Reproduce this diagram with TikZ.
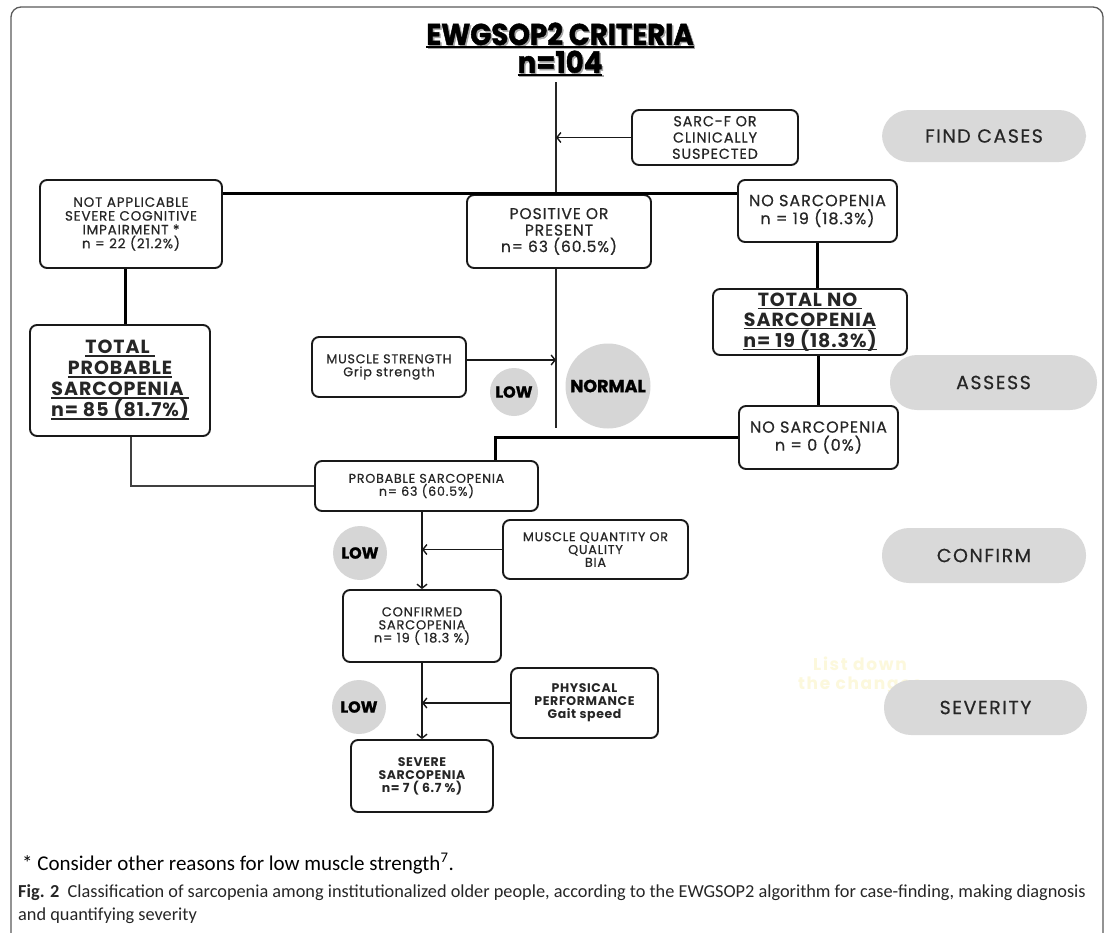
\documentclass[tikz,border=0pt]{standalone}
\usepackage{fontspec}
\setmainfont{Poppins}
\newfontfamily\capfont{Carlito}
\usetikzlibrary{arrows.meta,calc}
\definecolor{pillgray}{HTML}{D9D9D9}
\definecolor{circgray}{HTML}{D6D6D6}
\definecolor{ink}{HTML}{262626}
\definecolor{faint}{HTML}{FCF8DC}
\definecolor{framegray}{HTML}{5A5A5A}
\newcommand\bx[2]{\fontsize{#1}{#2}\selectfont\addfontfeatures{LetterSpace=6,FakeBold=0.6}}
\newcommand\bxb[2]{\fontsize{#1}{#2}\selectfont\bfseries\addfontfeatures{LetterSpace=5}}
\newcommand\myul[2][1.1pt]{\setbox0\hbox{#2}\rlap{\rule[-2.8pt]{\wd0}{#1}}\box0}
\newcommand\shadowed[1]{\rlap{\hspace{1.6pt}\raisebox{-1.6pt}{\textcolor{black!35}{#1}}}#1}
\tikzset{
  box/.style={draw=black!90, line width=1.9pt, rounded corners=7pt, fill=white,
    align=center, inner sep=2pt, text=ink},
  pill/.style={fill=pillgray, rounded corners=27pt, inner sep=0pt,
    font=\fontsize{19}{21}\selectfont\addfontfeatures{LetterSpace=8,FakeBold=0.4}, text=ink},
  circ/.style={circle, fill=circgray, inner sep=0pt, text=black,
    font=\fontsize{16}{18}\selectfont\bfseries\addfontfeatures{FakeBold=1.2}},
  titletext/.style={inner sep=0pt, text=black, align=center,
    font=\fontsize{30}{28}\selectfont\bfseries\addfontfeatures{FakeBold=1.5}},
  thickline/.style={line width=3pt, black},
  medline/.style={line width=2.4pt, black!75},
  thinline/.style={line width=1.3pt, black!85},
  arr/.style={line width=1.4pt, black!90, -{Straight Barb[length=4pt,width=10pt,line width=1.4pt]}},
  plain/.style={inner sep=0pt},
}
\begin{document}
\begin{tikzpicture}[x=1pt,y=-1pt]
\useasboundingbox (0,0) rectangle (1113,932);
\clip (0,0) rectangle (1113,932);
\fill[white] (0,0) rectangle (1113,932);
\draw[framegray, line width=1.3pt, rounded corners=10pt] (11,7) rectangle (1103,980);

% title with shadow (two lines in one node)
\node[titletext] (title) at (560,50) {\scalebox{0.92}[1]{\shadowed{\myul[2pt]{EWGSOP2 CRITERIA}}}\\\scalebox{0.92}[1]{\shadowed{\myul[2pt]{n=104}}}};
\coordinate (ctop) at (556,82);
\coordinate (cbot) at (556,428);
\coordinate (hy) at (0,193);

% faint text
\node[plain, text=faint, align=center, font=\fontsize{17}{19}\selectfont\bfseries\addfontfeatures{LetterSpace=10}] (faint) at (860,676) {List down\\the changes};

% pills
\node[pill, minimum width=204pt, minimum height=52pt] (find) at (984,136) {FIND CASES};
\node[pill, minimum width=207pt, minimum height=55pt] (assess) at (993.5,382.5) {ASSESS};
\node[pill, minimum width=204pt, minimum height=55pt] (confirm) at (984,555.5) {CONFIRM};
\node[pill, minimum width=203pt, minimum height=55pt] (severity) at (985.5,707.5) {SEVERITY};

% circles
\node[circ, minimum size=48pt] (low1) at (514,392) {LOW};
\node[circ, minimum size=85pt, font=\fontsize{17.5}{19}\selectfont\bfseries\addfontfeatures{FakeBold=1.2}] (normal) at (608,386) {NORMAL};
\node[circ, minimum size=54pt] (low2) at (360,553) {LOW};
\node[circ, minimum size=54pt] (low3) at (359,707) {LOW};

% boxes
\node[box, minimum width=182pt, minimum height=88pt, font=\bx{13.5}{13.8}] (notapp) at (131,224) {NOT APPLICABLE\\SEVERE COGNITIVE\\IMPAIRMENT *\\n = 22 (21.2\%)};
\node[box, minimum width=184pt, minimum height=73pt, font=\bx{15.5}{16.5}] (positive) at (559,231.5) {POSITIVE OR\\PRESENT\\n= 63 (60.5\%)};
\node[box, minimum width=166pt, minimum height=55pt, font=\bx{14.4}{16.3}] (sarcf) at (715,137.5) {SARC-F OR\\CLINICALLY\\SUSPECTED};
\node[box, minimum width=159pt, minimum height=62pt, font=\bx{16}{18}] (nosarc1) at (817.5,211) {NO SARCOPENIA\\n = 19 (18.3\%)};
\node[box, minimum width=194pt, minimum height=66pt, font=\bxb{19}{20}] (totalno) at (810,322) {\myul{TOTAL NO }\\\myul{SARCOPENIA}\\\myul{n= 19 (18.3\%)}};
\node[box, minimum width=159pt, minimum height=63pt, font=\bx{16}{18}] (nosarc0) at (818.5,437.5) {NO SARCOPENIA\\n = 0 (0\%)};
\node[box, minimum width=180pt, minimum height=111pt, font=\bxb{19}{21}] (totalprob) at (120,380.5) {\myul{TOTAL }\\\myul{PROBABLE}\\\myul{SARCOPENIA }\\\myul{n= 85 (81.7\%)}};
\node[box, minimum width=154pt, minimum height=60pt, font=\bx{12.7}{13}] (muscle) at (389,367) {MUSCLE STRENGTH\\Grip strength};
\node[box, minimum width=223pt, minimum height=50pt, font=\bx{12.7}{13}] (probsarc) at (426.5,486) {PROBABLE SARCOPENIA\\n= 63 (60.5\%)};
\node[box, minimum width=185pt, minimum height=59pt, font=\bx{12.7}{12.8}] (muscleq) at (595.5,549.5) {MUSCLE QUANTITY OR\\QUALITY\\BIA};
\node[box, minimum width=158pt, minimum height=72pt, font=\bx{13}{13}] (confirmed) at (422,626) {CONFIRMED\\SARCOPENIA\\n= 19 ( 18.3 \%)};
\node[box, minimum width=147pt, minimum height=70pt, font=\bxb{12.5}{13}] (phys) at (584.5,703) {PHYSICAL\\PERFORMANCE\\Gait speed};
\node[box, minimum width=142pt, minimum height=72pt, font=\bxb{12.5}{13}] (severe) at (422,776) {SEVERE\\SARCOPENIA\\n= 7 ( 6.7 \%)};

% connectors
\draw[thinline] (ctop) -- (positive.north -| ctop);
\draw[thinline] (positive.south -| ctop) -- (cbot);
\draw[arr] (sarcf.west) -- (sarcf.west -| ctop);
\draw[thickline] (notapp.east |- hy) -- (nosarc1.west |- hy);
\draw[thickline] (nosarc1.south) -- (nosarc1.south |- totalno.north);
\draw[thickline] (nosarc0.north) -- (nosarc0.north |- totalno.south);
\draw[thickline] ([xshift=-6pt]notapp.south) -- ([xshift=-6pt]notapp.south |- totalprob.north);
\draw[medline] ([xshift=11pt]totalprob.south) |- (probsarc.west);
\draw[thickline] (nosarc0.west) -| ([xshift=69pt]probsarc.north);
\draw[arr] ([yshift=7pt]muscle.east) -- ([yshift=7pt]muscle.east -| ctop);
\draw[arr] (probsarc.south -| confirmed.north) -- (confirmed.north);
\draw[arr] (muscleq.west) -- (muscleq.west -| confirmed.north);
\draw[arr] (confirmed.south) -- (severe.north);
\draw[arr] (phys.west) -- (phys.west -| confirmed.south);

% footnote and caption
\node[plain, anchor=base west, font=\capfont\fontsize{21}{24}\selectfont] (foot) at (22,870) {* Consider other reasons for low muscle strength\textsuperscript{7}.};
\node[plain, anchor=base west, text=black!85, font=\capfont\fontsize{18.3}{20}\selectfont] (cap1) at (18,897) {\textbf{Fig. 2}\ \ Classification of sarcopenia among institutionalized older people, according to the EWGSOP2 algorithm for case-finding, making diagnosis};
\node[plain, anchor=base west, text=black!85, font=\capfont\fontsize{18.3}{20}\selectfont] (cap2) at (18,920) {and quantifying severity};
\end{tikzpicture}
\end{document}
